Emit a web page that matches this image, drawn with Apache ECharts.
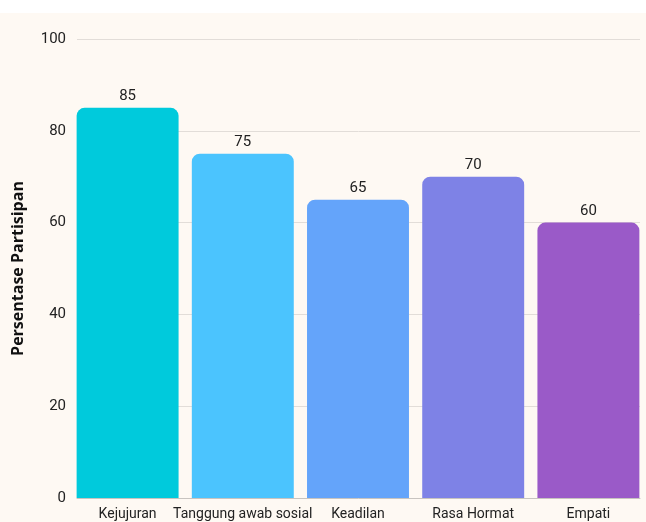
<!DOCTYPE html>
<html><head><meta charset="utf-8">
<script src="https://cdn.jsdelivr.net/npm/echarts@6/dist/echarts.min.js"></script>
<style>html,body{margin:0;padding:0;background:#fff;}#c{position:absolute;left:0;top:13px;width:646px;height:509px;background:#fef9f3;}</style>
</head><body><div id="c"></div>
<script>
const categories = ['Kejujuran', 'Tanggung awab sosial', 'Keadilan', 'Rasa Hormat', 'Empati'];
const values = [85, 75, 65, 70, 60];
const colors = ['#00cadc', '#4bc4fe', '#64a4fa', '#7e82e6', '#9a5ac8'];
const yTicks = { min: 0, max: 100, interval: 20 };
const chart = echarts.init(document.getElementById('c'));
const font = 'Roboto';
chart.setOption({
  animation: false,
  grid: [
    { left: 77, right: 6, top: 26, bottom: 24, outerBoundsMode: 'none', containLabel: false },
    { left: 70, right: 0, top: 26, bottom: 24, outerBoundsMode: 'none', containLabel: false }
  ],
  xAxis: [
    {
      type: 'category', data: categories, gridIndex: 0,
      axisLine: { lineStyle: { color: '#c8c4c0' } },
      axisTick: { show: false }, axisLabel: { show: false }
    },
    {
      type: 'category', data: categories, gridIndex: 1,
      axisLine: { show: false }, axisTick: { show: false },
      axisLabel: { color: '#222', fontSize: 14, fontFamily: font, margin: 9, interval: 0 }
    }
  ],
  yAxis: [
    {
      type: 'value', gridIndex: 0, min: yTicks.min, max: yTicks.max, interval: yTicks.interval,
      name: 'Persentase Partisipan', nameLocation: 'middle', nameGap: 51,
      nameTextStyle: { fontFamily: 'Open Sans', fontWeight: 'bold', fontSize: 16, color: '#111' },
      axisLabel: { color: '#222', fontSize: 15, fontFamily: font, margin: 11 },
      splitLine: { lineStyle: { color: '#e2ddd8' } },
      axisLine: { show: false }, axisTick: { show: false }
    },
    {
      type: 'value', gridIndex: 1, min: yTicks.min, max: yTicks.max, interval: yTicks.interval,
      show: false, splitLine: { show: false }
    }
  ],
  series: [{
    type: 'bar', xAxisIndex: 1, yAxisIndex: 1, barCategoryGap: '11.5%',
    data: values.map((v, i) => ({ value: v, itemStyle: { color: colors[i] } })),
    itemStyle: { borderRadius: [8, 8, 0, 0] },
    label: { show: true, position: 'top', color: '#222', fontSize: 15, fontFamily: font, distance: 4 }
  }]
});
</script></body></html>
